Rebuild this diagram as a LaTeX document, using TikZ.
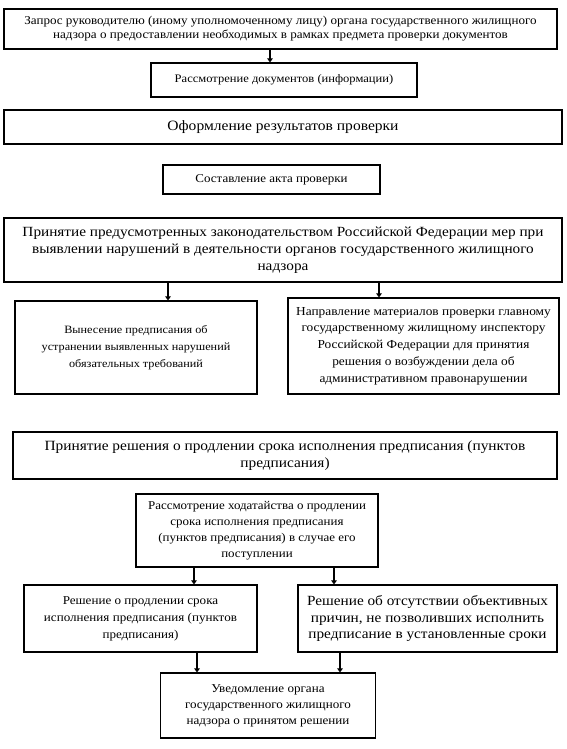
\documentclass[tikz,border=0pt]{standalone}
\usepackage{fontspec}
\setmainfont{Liberation Serif}[FakeStretch=1.09]
\usetikzlibrary{arrows.meta}
\begin{document}
\begin{tikzpicture}[x=1pt,y=-1pt,
  box/.style={draw,line width=1.1pt,rectangle,inner sep=0pt,align=center,anchor=center},
  arr/.style={line width=2pt,-{Triangle[length=4pt,width=5.5pt]}}]
\useasboundingbox[fill=white] (0,0) rectangle (566,749);
\node[box,font=\fontsize{12}{14}\selectfont,minimum width=553pt,minimum height=40pt,text depth=3pt] (b1) at (280.5,29)
  {Запрос руководителю (иному уполномоченному лицу) органа государственного жилищного\\надзора о предоставлении необходимых в рамках предмета проверки документов};
\node[box,font=\fontsize{11.5}{14}\selectfont,minimum width=266pt,minimum height=34pt] (b2) at (284,80)
  {Рассмотрение документов (информации)};
\node[box,font=\fontsize{14.25}{17}\selectfont,minimum width=558pt,minimum height=34pt] (b3) at (283,127)
  {Оформление результатов проверки};
\node[box,font=\fontsize{11.9}{16}\selectfont,minimum width=217pt,minimum height=29pt] (b4) at (271.5,179.5)
  {Составление акта проверки};
\node[box,font=\fontsize{14}{17}\selectfont,minimum width=558pt,minimum height=64pt] (b5) at (283,250)
  {Принятие предусмотренных законодательством Российской Федерации мер при\\выявлении нарушений в деятельности органов государственного жилищного\\надзора};
\node[box,font=\fontsize{11.2}{17}\selectfont,minimum width=242pt,minimum height=93pt] (b6) at (136,347.5)
  {Вынесение предписания об\\устранении выявленных нарушений\\обязательных требований};
\node[box,font=\fontsize{12.25}{16.7}\selectfont,minimum width=271pt,minimum height=96pt] (b7) at (423.5,346)
  {Направление материалов проверки главному\\государственному жилищному инспектору\\Российской Федерации для принятия\\решения о возбуждении дела об\\административном правонарушении};
\node[box,font=\fontsize{14.1}{17}\selectfont,minimum width=544pt,minimum height=47pt] (b8) at (285,455.5)
  {Принятие решения о продлении срока исполнения предписания (пунктов\\предписания)};
\node[box,font=\fontsize{11.9}{16}\selectfont,minimum width=242pt,minimum height=73pt] (b9) at (257,530.5)
  {Рассмотрение ходатайства о продлении\\срока исполнения предписания\\(пунктов предписания) в случае его\\поступлении};
\node[box,font=\fontsize{12}{17}\selectfont,minimum width=233pt,minimum height=67pt] (b10) at (140.5,618.5)
  {Решение о продлении срока\\исполнения предписания (пунктов\\предписания)};
\node[box,font=\fontsize{14}{16.5}\selectfont,minimum width=259pt,minimum height=67pt] (b11) at (427.5,618.5)
  {Решение об отсутствии объективных\\причин, не позволивших исполнить\\предписание в установленные сроки};
\node[box,font=\fontsize{12}{16}\selectfont,minimum width=214.5pt,minimum height=65pt] (b12) at (268,705.5)
  {Уведомление органа\\государственного жилищного\\надзора о принятом решении};
\draw[arr] (b1.south -| 270,0) -- (b2.north -| 270,0);
\draw[arr] (b5.south -| 168,0) -- (b6.north -| 168,0);
\draw[arr] (b5.south -| 379,0) -- (b7.north -| 379,0);
\draw[arr] (b9.south -| 194,0) -- (b10.north -| 194,0);
\draw[arr] (b9.south -| 334,0) -- (b11.north -| 334,0);
\draw[arr] (b10.south -| 197,0) -- (b12.north -| 197,0);
\draw[arr] (b11.south -| 340,0) -- (b12.north -| 340,0);
\end{tikzpicture}
\end{document}
